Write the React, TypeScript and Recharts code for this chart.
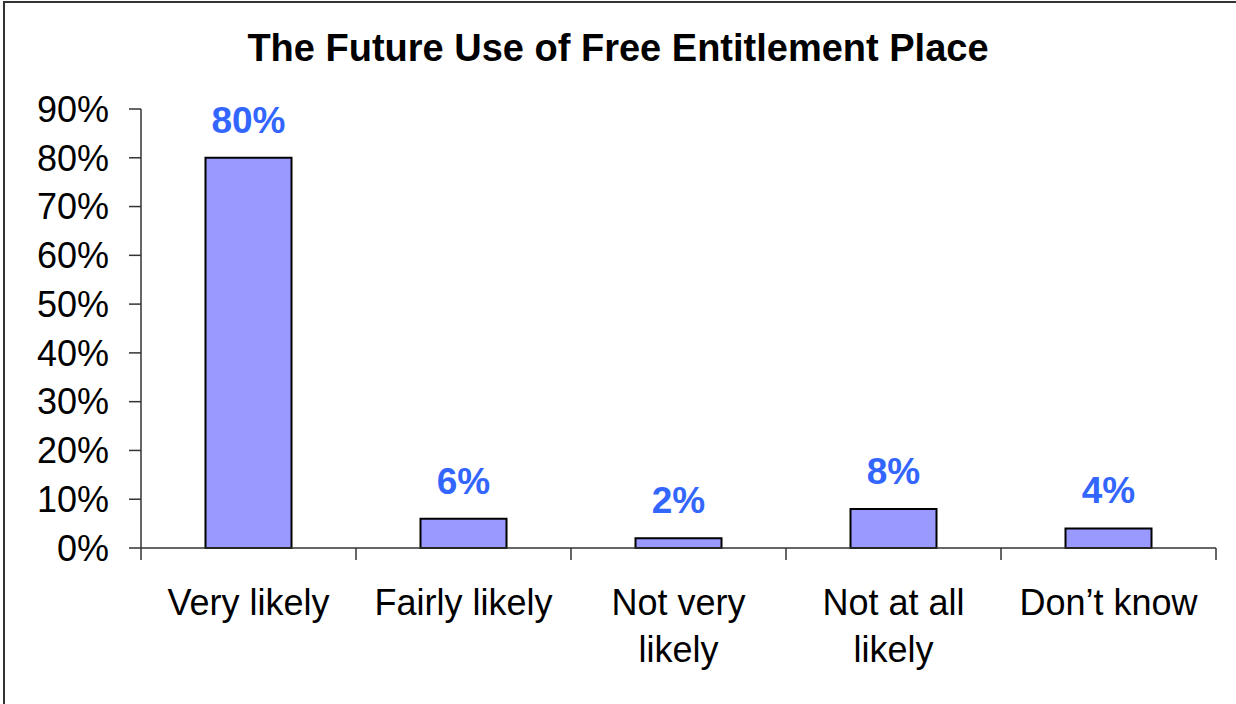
import { BarChart, Bar, XAxis, YAxis, LabelList } from 'recharts';

const categories = ['Very likely', 'Fairly likely', 'Not very likely', 'Not at all likely', 'Don\u2019t know'];
const shares = [80, 6, 2, 8, 4];
const yTicks = [0, 10, 20, 30, 40, 50, 60, 70, 80, 90];

const data = categories.map((category, i) => ({ category, share: shares[i] }));

const font = '"Liberation Sans", Arial, sans-serif';
const tickFontSize = 36;

// greedy word wrap measured on a canvas, so the labels break like Excel's
const measureCtx = document.createElement('canvas').getContext('2d');
function wrapWords(label: string, maxWidth: number): string[] {
  if (!measureCtx) return [label];
  measureCtx.font = `${tickFontSize}px ${font}`;
  const lines: string[] = [];
  let current = '';
  for (const word of label.split(' ')) {
    const next = current ? `${current} ${word}` : word;
    if (current && measureCtx.measureText(next).width > maxWidth) {
      lines.push(current);
      current = word;
    } else {
      current = next;
    }
  }
  if (current) lines.push(current);
  return lines;
}

// Excel style: tick marks sit between categories, not under them
function CategoryTick(props: any) {
  const { x, y, payload, index, visibleTicksCount } = props;
  const half = payload.offset ?? 0;
  const last = index === visibleTicksCount - 1;
  const lines = wrapWords(String(payload.value), 200);
  return (
    <g>
      <line x1={x - half} x2={x - half} y1={y} y2={y + 12} stroke="#333" strokeWidth={1.5} />
      {last && <line x1={x + half} x2={x + half} y1={y} y2={y + 12} stroke="#333" strokeWidth={1.5} />}
      <text x={x} y={y + 67} textAnchor="middle" fontSize={tickFontSize} fontFamily={font} fill="#000">
        {lines.map((line, i) => (
          <tspan key={i} x={x} dy={i === 0 ? 0 : 47}>
            {line}
          </tspan>
        ))}
      </text>
    </g>
  );
}

export default function App() {
  return (
    <div style={{ position: 'absolute', left: 0, top: 0, width: 1236, height: 704, overflow: 'hidden', background: '#fff' }}>
      <div
        style={{
          position: 'absolute',
          left: 3,
          top: 1,
          width: 1250,
          height: 720,
          border: '2px solid #333',
        }}
      />
      <div
        style={{
          position: 'absolute',
          left: 0,
          top: 29,
          width: 1236,
          textAlign: 'center',
          fontFamily: font,
          fontWeight: 'bold',
          fontSize: 38,
          lineHeight: '38px',
          color: '#000',
        }}
      >
        The Future Use of Free Entitlement Place
      </div>
      <BarChart
        width={1236}
        height={704}
        data={data}
        margin={{ top: 109, right: 20, bottom: 6, left: 0 }}
        barCategoryGap="30%"
        style={{ position: 'absolute', left: 0, top: 0 }}
      >
        <XAxis
          dataKey="category"
          height={150}
          stroke="#333"
          strokeWidth={1.5}
          tickLine={false}
          tickSize={0}
          tickMargin={0}
          interval={0}
          tick={<CategoryTick />}
        />
        <YAxis
          width={141}
          domain={[0, 90]}
          ticks={yTicks}
          interval={0}
          stroke="#333"
          strokeWidth={1.5}
          tickSize={12}
          tickMargin={20}
          tickFormatter={(v: number) => `${v}%`}
          tick={{ fontSize: 36, fill: '#000', fontFamily: font }}
        />
        <Bar dataKey="share" fill="#9999FF" stroke="#000" strokeWidth={2} isAnimationActive={false}>
          <LabelList
            dataKey="share"
            position="top"
            offset={25}
            formatter={(v: any) => `${v}%`}
            fill="#3366FF"
            fontSize={37}
            fontWeight="bold"
            fontFamily={font}
          />
        </Bar>
      </BarChart>
    </div>
  );
}
